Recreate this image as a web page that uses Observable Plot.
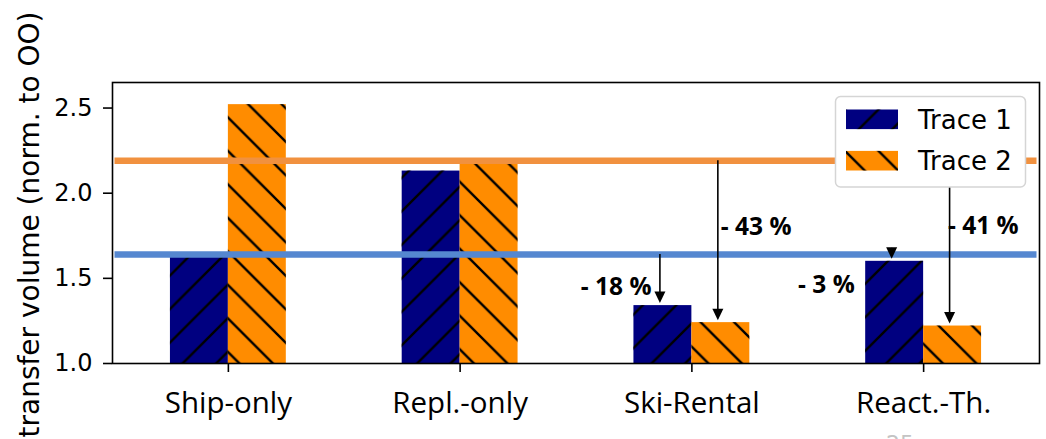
<!DOCTYPE html>
<html>
<head>
<meta charset="utf-8">
<script src="https://cdn.jsdelivr.net/npm/d3@7"></script>
<script src="https://cdn.jsdelivr.net/npm/@observablehq/plot@0.6"></script>
<style>
  html, body { margin: 0; padding: 0; background: #fff; overflow: hidden; }
  #chart { width: 1046px; height: 439px; }
</style>
</head>
<body>
<div id="chart"></div>
<script>
// ---- data -------------------------------------------------------------
const categories = ["Ship-only", "Repl.-only", "Ski-Rental", "React.-Th."];
const traces = ["Trace 1", "Trace 2"];
const trace1 = [1.64, 2.13, 1.34, 1.60];
const trace2 = [2.52, 2.19, 1.24, 1.22];
const yTicks = [1.0, 1.5, 2.0, 2.5];
const yDomain = [1.0, 2.65];
const yTitle = "transfer volume (norm. to OO)";

// reference levels drawn as horizontal lines
const referenceLevels = [
  { trace: "Trace 1", value: 1.64 },
  { trace: "Trace 2", value: 2.19 }
];

// reductions relative to the reference level of the same trace
const reductions = [
  { category: "Ski-Rental", trace: "Trace 1", label: "- 18 %" },
  { category: "Ski-Rental", trace: "Trace 2", label: "- 43 %" },
  { category: "React.-Th.", trace: "Trace 1", label: "- 3 %" },
  { category: "React.-Th.", trace: "Trace 2", label: "- 41 %" }
];
// where each reduction label sits (category units, value units)
const labelPlacement = [
  { x: 1.826, y: 1.447, anchor: "end" },
  { x: 2.125, y: 1.802, anchor: "start" },
  { x: 2.703, y: 1.459, anchor: "end" },
  { x: 3.105, y: 1.805, anchor: "start" }
];

// ---- styling ----------------------------------------------------------
const barColor = { "Trace 1": "#000080", "Trace 2": "#ff8c00" };
const hatchId = { "Trace 1": "hatch-fwd", "Trace 2": "hatch-back" };
const lineColor = { "Trace 1": "#5587d0", "Trace 2": "#f1913f" };
const barWidth = 0.25;
const hatchPeriod = 33.5;
const hatchPhase = 10;

// ---- derived rows -------------------------------------------------------
const series = [trace1, trace2];
const rows = categories.flatMap((category, i) =>
  traces.map((trace, j) => ({
    category, trace, i, j,
    center: i + (j - 0.5) * barWidth,
    value: series[j][i]
  }))
);
const arrows = reductions.map((r, k) => {
  const i = categories.indexOf(r.category);
  const j = traces.indexOf(r.trace);
  return {
    ...r,
    x: i + (j - 0.5) * barWidth,
    from: referenceLevels.find(d => d.trace === r.trace).value,
    to: series[j][i],
    lx: labelPlacement[k].x,
    ly: labelPlacement[k].y,
    anchor: labelPlacement[k].anchor
  };
});

// filled arrow head with its tip at the anchor point
const arrowHead = {
  draw(context) {
    context.moveTo(0, 0);
    context.lineTo(-5.5, -11.5);
    context.lineTo(5.5, -11.5);
    context.closePath();
  }
};

const annotationFont = { fontFamily: "'Open Sans', sans-serif", fontWeight: 700, fontSize: 24.5, fill: "black" };

const marks = [];
// bars: solid fill, then hatch on top
for (const t of traces) {
  const data = rows.filter(d => d.trace === t);
  const geom = {
    x1: d => d.center - barWidth / 2,
    x2: d => d.center + barWidth / 2,
    y1: () => 0,
    y2: "value",
    clip: true
  };
  marks.push(Plot.rect(data, { ...geom, fill: barColor[t] }));
  marks.push(Plot.rect(data, { ...geom, fill: `url(#${hatchId[t]})` }));
}
// reference lines
for (const t of traces) {
  marks.push(Plot.ruleY(referenceLevels.filter(d => d.trace === t), {
    y: "value", stroke: lineColor[t], strokeWidth: 6.5, insetLeft: 2.5, insetRight: 2.5
  }));
}
// arrows
marks.push(Plot.ruleX(arrows, {
  x: "x", y1: "from", y2: "to", dx: -3, insetBottom: 13, stroke: "black", strokeWidth: 1.6
}));
marks.push(Plot.dot(arrows, {
  x: "x", y: "to", dx: -3, dy: -2.5, symbol: arrowHead, r: 5, fill: "black", stroke: "none"
}));
// reduction labels
for (const anchor of ["start", "end"]) {
  marks.push(Plot.text(arrows.filter(d => d.anchor === anchor), {
    x: "lx", y: "ly", text: "label", textAnchor: anchor, ...annotationFont
  }));
}
// axes
marks.push(Plot.axisY({
  ticks: yTicks, tickFormat: d3.format(".1f"), tickSize: 9, tickPadding: 11,
  fontSize: 24, fontFamily: "'DejaVu Sans', sans-serif", strokeWidth: 1.6, label: null
}));
marks.push(Plot.axisX({
  ticks: categories.map((_, i) => i), tickFormat: i => categories[i],
  tickSize: 9, tickPadding: 20, fontSize: 29.5, fontFamily: "'Open Sans', sans-serif",
  strokeWidth: 1.6, label: null
}));
// y title, centred on the frame
marks.push(Plot.text([yTitle], {
  text: d => d, frameAnchor: "left", textAnchor: "middle", rotate: -90, dx: -82, dy: 1.5,
  fontSize: 28, fontFamily: "'DejaVu Sans', sans-serif", fill: "black"
}));
marks.push(Plot.frame({ stroke: "black", strokeWidth: 1.6 }));

const margin = { top: 82, right: 7, bottom: 76, left: 112 };
const width = 1046, height = 439;

const chart = Plot.plot({
  width, height,
  marginTop: margin.top, marginRight: margin.right,
  marginBottom: margin.bottom, marginLeft: margin.left,
  x: { domain: [-0.5, categories.length - 0.5] },
  y: { domain: yDomain },
  style: { background: "white", color: "black", fontFamily: "'DejaVu Sans', sans-serif", overflow: "hidden" },
  marks
});

// ---- hatch patterns, legend, footer (drawn into the same SVG) ----------
const svg = d3.select(chart);
const defs = svg.insert("defs", ":first-child");
function addHatch(id, forward) {
  const P = hatchPeriod;
  const d = forward
    ? `M0,${P}L${P},0M-3,3L3,-3M${P - 3},${P + 3}L${P + 3},${P - 3}`
    : `M0,0L${P},${P}M-3,${P - 3}L3,${P + 3}M${P - 3},-3L${P + 3},3`;
  defs.append("pattern")
    .attr("id", id)
    .attr("patternUnits", "userSpaceOnUse")
    .attr("x", hatchPhase).attr("y", 0)
    .attr("width", P).attr("height", P)
    .append("path")
    .attr("d", d)
    .attr("stroke", "black")
    .attr("stroke-width", 2.4)
    .attr("fill", "none");
}
addHatch("hatch-fwd", true);
addHatch("hatch-back", false);

// legend box in the upper-right corner of the frame
const frameRight = width - margin.right;
const legend = svg.append("g")
  .attr("transform", `translate(${frameRight - 13 - 191},${margin.top + 14})`);
legend.append("rect")
  .attr("x", 0.5).attr("y", 0.5)
  .attr("width", 190).attr("height", 90.5)
  .attr("rx", 5)
  .attr("fill", "white")
  .attr("stroke", "#d5d5d5")
  .attr("stroke-width", 1.5);
traces.forEach((t, k) => {
  const row = legend.append("g").attr("transform", `translate(0,${13.5 + k * 41.4})`);
  row.append("rect").attr("x", 11).attr("y", 0).attr("width", 52).attr("height", 19.6).attr("fill", barColor[t]);
  row.append("rect").attr("x", 11).attr("y", 0).attr("width", 52).attr("height", 19.6).attr("fill", `url(#${hatchId[t]})`);
  row.append("text")
    .attr("x", 83).attr("y", 9.8).attr("dy", "0.36em")
    .attr("text-anchor", "start")
    .attr("font-family", "'DejaVu Sans', sans-serif")
    .attr("font-size", 26)
    .attr("fill", "black")
    .text(t);
});

// page number peeking in at the bottom edge
svg.append("text")
  .attr("x", 900).attr("y", 451)
  .attr("text-anchor", "middle")
  .attr("font-family", "'DejaVu Sans', sans-serif")
  .attr("font-size", 22)
  .attr("fill", "#c4c4c4")
  .text("25");

document.getElementById("chart").appendChild(chart);
</script>
</body>
</html>
